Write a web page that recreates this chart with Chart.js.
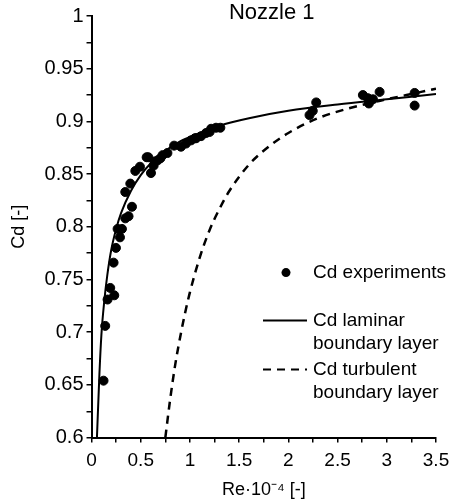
<!DOCTYPE html>
<html>
<head>
<meta charset="utf-8">
<script src="https://cdn.jsdelivr.net/npm/chart.js@4"></script>
<style>
  html, body { margin: 0; padding: 0; background: #fff; }
  #wrap { width: 449px; height: 500px; }
</style>
</head>
<body>
<div id="wrap"><canvas id="cdChart"></canvas></div>
<script>
// values (Re*1e-4, Cd)
var expRe = [0.122, 0.139, 0.163, 0.190, 0.231, 0.224, 0.248, 0.289, 0.265, 0.309,
             0.343, 0.376, 0.411, 0.343, 0.394, 0.445, 0.492, 0.560, 0.577, 0.604,
             0.631, 0.640, 0.671, 0.700, 0.722, 0.771, 0.839, 0.909, 0.960, 1.011,
             1.050, 1.062, 1.113, 1.164, 1.200, 1.215, 1.265, 1.309,
             2.215, 2.248, 2.283, 2.757, 2.808, 2.818, 2.859, 2.927, 3.283, 3.283];
var expCd = [0.654, 0.706, 0.731, 0.742, 0.735, 0.766, 0.780, 0.790, 0.798, 0.798,
             0.808, 0.810, 0.819, 0.833, 0.841, 0.853, 0.857, 0.866, 0.866, 0.851,
             0.858, 0.862, 0.863, 0.865, 0.868, 0.870, 0.877, 0.876, 0.879, 0.882,
             0.884, 0.884, 0.886, 0.889, 0.890, 0.893, 0.894, 0.894,
             0.906, 0.910, 0.918, 0.925, 0.922, 0.917, 0.921, 0.928, 0.927, 0.915];

var lamRe = [0.055, 0.08, 0.10, 0.13, 0.16, 0.20, 0.25, 0.30, 0.40, 0.50,
             0.60, 0.75, 0.90, 1.10, 1.30, 1.60, 2.00, 2.50, 3.00, 3.50];
var lamCd = [0.600, 0.660, 0.697, 0.730, 0.754, 0.778, 0.798, 0.813, 0.834, 0.849,
             0.860, 0.872, 0.881, 0.889, 0.896, 0.903, 0.910, 0.916, 0.921, 0.926];

var turbRe = [0.75, 0.80, 0.85, 0.90, 0.95, 1.00, 1.10, 1.20, 1.30, 1.40,
              1.60, 1.80, 2.00, 2.30, 2.60, 3.00, 3.20, 3.50];
var turbCd = [0.600, 0.637, 0.669, 0.695, 0.718, 0.738, 0.771, 0.797, 0.817, 0.834,
              0.859, 0.876, 0.889, 0.903, 0.912, 0.921, 0.925, 0.931];

var xTicks = [0, 0.5, 1, 1.5, 2, 2.5, 3, 3.5];
var yTicks = [0.6, 0.65, 0.7, 0.75, 0.8, 0.85, 0.9, 0.95, 1];

function toPoints(xs, ys) {
    return xs.map(function (x, i) { return { x: x, y: ys[i] }; });
}

var FONT = '"Liberation Sans", Arial, sans-serif';

// title sits inside the top of the plot, like the original
var titlePlugin = {
    id: 'innerTitle',
    afterDraw: function (chart) {
        var c = chart.ctx, a = chart.chartArea;
        c.save();
        c.font = '22px ' + FONT;
        c.fillStyle = '#000';
        c.textAlign = 'center';
        c.textBaseline = 'middle';
        c.fillText('Nozzle 1', (a.left + a.right) / 2 + 8, a.top - 3);
        c.restore();
    }
};

// legend drawn by hand so the labels can wrap on two lines
var legendPlugin = {
    id: 'sideLegend',
    afterDraw: function (chart) {
        var c = chart.ctx, a = chart.chartArea;
        var textX = a.right - 123;
        c.save();
        c.font = '19px ' + FONT;
        c.fillStyle = '#000';
        c.textBaseline = 'middle';

        var y0 = a.bottom - 165;
        c.beginPath();
        c.arc(a.right - 150, y0, 4.5, 0, Math.PI * 2);
        c.fill();
        c.fillText('Cd experiments', textX, y0);

        var y1 = a.bottom - 117;
        c.strokeStyle = '#000';
        c.lineWidth = 2;
        c.beginPath();
        c.moveTo(a.right - 173, y1);
        c.lineTo(a.right - 129, y1);
        c.stroke();
        c.fillText('Cd laminar', textX, y1);
        c.fillText('boundary layer', textX, y1 + 23);

        var y2 = a.bottom - 68;
        c.setLineDash([8, 6]);
        c.beginPath();
        c.moveTo(a.right - 173, y2);
        c.lineTo(a.right - 129, y2);
        c.stroke();
        c.setLineDash([]);
        c.fillText('Cd turbulent', textX, y2);
        c.fillText('boundary layer', textX, y2 + 23);
        c.restore();
    }
};

function near(v, list) {
    return list.some(function (t) { return Math.abs(t - v) < 1e-6; });
}

document.addEventListener('DOMContentLoaded', function () {
    var ctx = document.getElementById('cdChart').getContext('2d');
    new Chart(ctx, {
        type: 'scatter',
        data: {
            datasets: [{
                label: 'Cd experiments',
                data: toPoints(expRe, expCd),
                backgroundColor: '#000',
                borderColor: '#000',
                pointRadius: 4.5,
                pointHoverRadius: 4.5
            }, {
                type: 'line',
                label: 'Cd laminar boundary layer',
                data: toPoints(lamRe, lamCd),
                borderColor: '#000',
                borderWidth: 2,
                pointRadius: 0,
                fill: false,
                cubicInterpolationMode: 'monotone'
            }, {
                type: 'line',
                label: 'Cd turbulent boundary layer',
                data: toPoints(turbRe, turbCd),
                borderColor: '#000',
                borderWidth: 2.5,
                borderDash: [8, 6],
                pointRadius: 0,
                fill: false,
                cubicInterpolationMode: 'monotone'
            }]
        },
        options: {
            responsive: true,
            maintainAspectRatio: false,
            animation: false,
            layout: { padding: { left: 4, right: 0, top: 16, bottom: -1 } },
            plugins: {
                legend: { display: false },
                tooltip: { enabled: false }
            },
            scales: {
                x: {
                    type: 'linear',
                    min: 0,
                    max: 3.5,
                    border: { color: '#000', width: 2 },
                    grid: { drawOnChartArea: false, color: '#000', tickLength: 5, lineWidth: 1.5 },
                    afterFit: function (scale) { scale.paddingRight = 13; },
                    ticks: {
                        stepSize: 0.25,
                        color: '#000',
                        font: { family: FONT, size: 19 },
                        maxRotation: 0,
                        autoSkip: false,
                        padding: 7,
                        callback: function (v) { return near(v, xTicks) ? String(+v.toFixed(2)) : ''; }
                    },
                    title: {
                        display: true,
                        text: 'Re·10⁻⁴ [-]',
                        color: '#000',
                        font: { family: FONT, size: 18 },
                        padding: 0
                    }
                },
                y: {
                    type: 'linear',
                    min: 0.6,
                    max: 1,
                    border: { color: '#000', width: 2 },
                    grid: { drawOnChartArea: false, color: '#000', tickLength: 5, lineWidth: 1.5 },
                    ticks: {
                        stepSize: 0.025,
                        color: '#000',
                        font: { family: FONT, size: 20 },
                        autoSkip: false,
                        padding: 3,
                        callback: function (v) { return near(v, yTicks) ? String(+v.toFixed(3)) : ''; }
                    },
                    title: {
                        display: true,
                        text: 'Cd [-]',
                        color: '#000',
                        font: { family: FONT, size: 18 },
                        padding: { top: 4, bottom: 12 }
                    }
                }
            }
        },
        plugins: [titlePlugin, legendPlugin]
    });
});
</script>
</body>
</html>
